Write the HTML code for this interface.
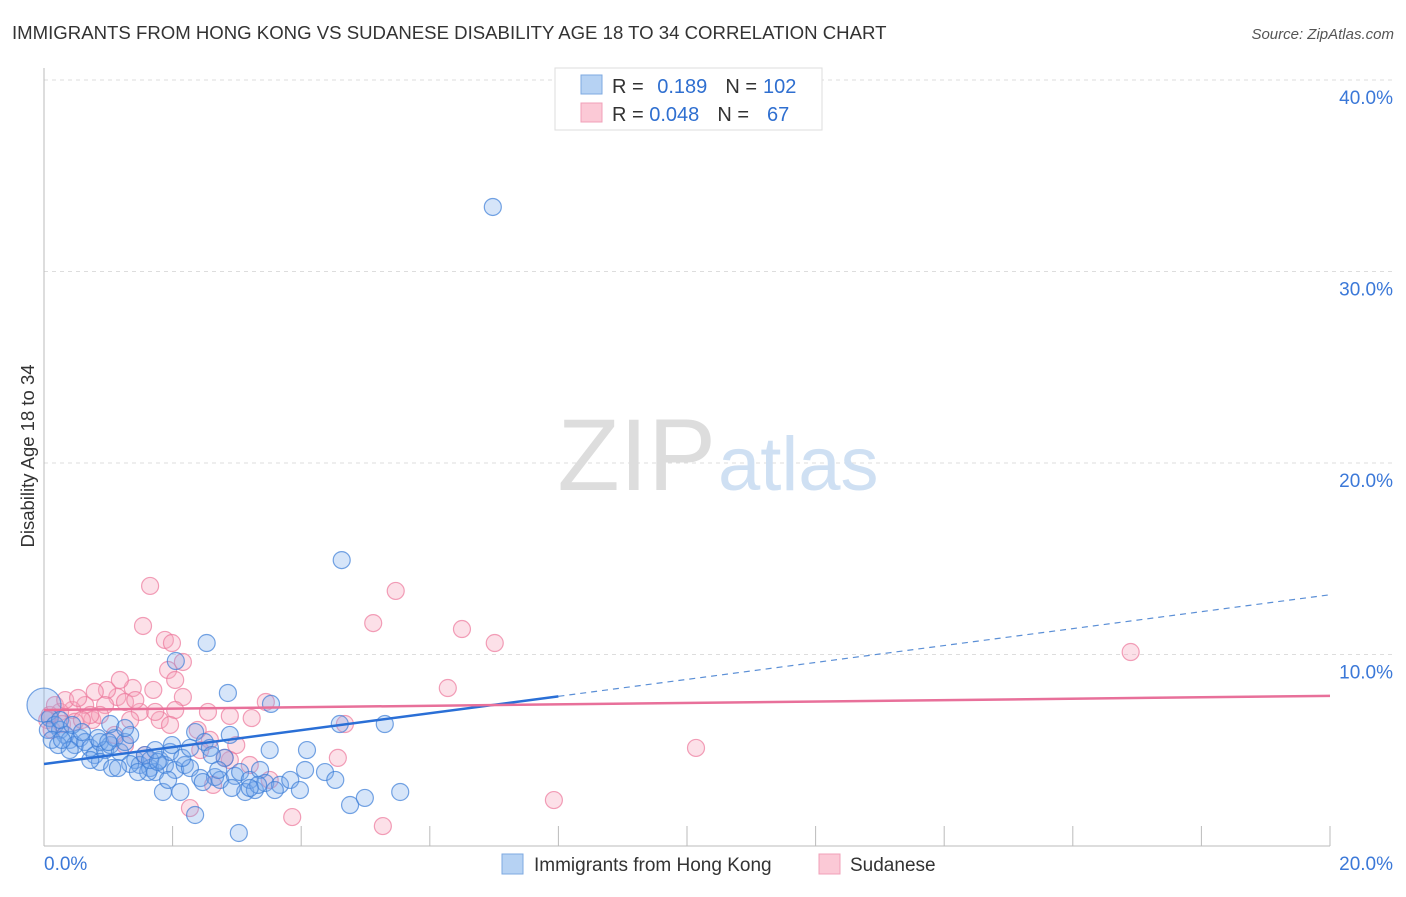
<!DOCTYPE html>
<html><head><meta charset="utf-8"><style>
body{margin:0;background:#fff;font-family:"Liberation Sans",sans-serif}
svg text{font-family:"Liberation Sans",sans-serif}
</style></head><body>
<svg id="c" width="1406" height="892">
<text x="12" y="39" font-size="18.6" fill="#333">IMMIGRANTS FROM HONG KONG VS SUDANESE DISABILITY AGE 18 TO 34 CORRELATION CHART</text>
<text x="1394" y="39" font-size="15" fill="#555" font-style="italic" text-anchor="end">Source: ZipAtlas.com</text>
<text transform="translate(34,456) rotate(-90)" font-size="18.5" fill="#333" text-anchor="middle">Disability Age 18 to 34</text>
<g id="grid"></g>
<text x="716" y="490" font-size="102" fill="#ddd" font-family="Liberation Serif" text-anchor="end">ZIP</text>
<text x="718" y="490" font-size="76" fill="#cfe0f3">atlas</text>
<g id="pts"></g>
<g id="lines"></g>
<g>
<rect x="555" y="68" width="267" height="62" fill="#fff" stroke="#ddd"/>
<rect x="581" y="75" width="21" height="19" fill="#b6d2f3" stroke="#7ea9e0"/>
<rect x="581" y="103" width="21" height="19" fill="#fbc9d6" stroke="#f0a0b8"/>
<text x="612" y="93" font-size="20" fill="#333">R = <tspan fill="#2f6fd0" dx="8">0.189</tspan><tspan fill="#333" dx="18">N =</tspan><tspan fill="#2f6fd0" dx="6">102</tspan></text>
<text x="612" y="121" font-size="20" fill="#333">R = <tspan fill="#2f6fd0">0.048</tspan><tspan fill="#333" dx="18">N =</tspan><tspan fill="#2f6fd0" dx="18">67</tspan></text>
</g>
<g>
<rect x="502" y="854" width="21" height="20" fill="#b6d2f3" stroke="#7ea9e0"/>
<text x="534" y="871" font-size="19" fill="#333">Immigrants from Hong Kong</text>
<rect x="819" y="854" width="21" height="20" fill="#fbc9d6" stroke="#f0a0b8"/>
<text x="850" y="871" font-size="19" fill="#333">Sudanese</text>
</g>
</svg>
<script>
const xTicks=[0,2,4,6,8,10,12,14,16,18,20];
const yTicks=[10,20,30,40];
const blueX=[0,.09,.17,.25,.33,.40,.06,.12,.22,.48,.56,.64,.72,.79,.87,.95,1.03,1.10,1.18,1.26,1.34,1.42,1.49,1.57,1.65,1.73,1.80,1.88,1.96,2.04,2.12,2.19,2.27,2.35,2.43,2.50,2.58,2.66,2.74,2.81,2.89,2.97,3.05,3.13,3.20,3.28,3.36,3.44,3.51,3.67,3.83,3.98,4.06,4.09,4.37,4.53,4.60,4.76,4.99,5.30,5.54,4.63,2.53,2.05,2.86,3.53,6.98,3.03,2.35,1.85,1.34,.87,.72,.40,.28,1.06,1.62,1.99,2.15,2.61,2.71,2.92,3.33,1.03,1.26,1.65,.25,.44,.59,.84,1.00,1.15,1.46,1.77,1.93,3.20,3.59,1.73,2.27,2.47];
const blueY=[7.36,6.68,6.32,6.06,5.80,5.54,6.06,5.54,5.27,5.27,5.64,5.43,5.12,4.75,5.43,5.01,5.27,5.64,4.91,5.43,5.80,4.49,4.23,4.75,4.07,3.86,4.49,4.23,4.91,3.97,2.82,4.23,4.07,5.95,3.55,5.43,5.12,3.60,3.45,4.60,5.80,3.66,3.86,2.82,3.45,2.92,3.97,3.29,5.01,3.19,3.45,2.92,3.97,5.01,3.86,3.45,6.37,2.14,2.51,6.37,2.82,14.93,10.60,9.66,7.99,7.42,33.37,0.68,1.62,2.82,4.28,4.39,4.49,5.01,5.54,4.07,3.86,5.27,4.60,4.75,3.97,3.03,3.19,6.37,6.16,4.49,6.58,6.32,5.95,5.64,5.43,4.07,3.86,4.39,3.45,3.03,2.92,5.01,5.12,3.34];
const pinkX=[1.65,5.47,1.54,5.12,6.50,7.01,1.88,1.99,16.9,2.16,1.93,2.04,6.28,1.70,2.16,1.14,.98,.79,1.38,1.26,.95,.64,.44,.25,.09,.17,.33,.53,.75,.87,1.49,1.80,2.04,2.55,2.89,3.23,3.45,4.68,2.99,10.14,7.93,5.27,3.86,2.27,2.63,4.57,3.20,2.89,2.58,1.96,1.34,1.10,.72,.05,.12,.28,.48,1.18,1.42,1.73,2.39,2.43,2.81,3.51,1.26,1.57,.59];
const pinkY=[13.58,13.32,11.49,11.64,11.33,10.60,10.76,10.60,10.13,9.61,9.19,8.67,8.25,8.15,7.78,7.78,8.15,8.05,8.25,7.52,7.36,7.36,7.10,7.00,6.84,7.36,7.62,7.73,6.58,6.84,7.00,6.58,7.10,7.00,6.79,6.68,7.52,6.37,5.27,5.12,2.40,1.04,1.51,1.98,3.19,4.60,4.23,4.49,5.54,6.32,6.58,5.80,6.84,6.58,6.06,6.37,6.48,8.67,7.62,7.00,6.06,5.01,4.60,3.45,5.27,4.75,6.58];
const blueLine=[4.28,0.442], pinkLine=[7.10,0.037];
const NS="http://www.w3.org/2000/svg";
const sx=v=>44+v*64.3, sy=v=>846-v*19.15;
function mk(t,a,p){const e=document.createElementNS(NS,t);for(const k in a)e.setAttribute(k,a[k]);p.appendChild(e);return e;}
const g=document.getElementById('grid');
yTicks.forEach(t=>{
 const l=mk('line',{x1:44,x2:1392,y1:sy(t),y2:sy(t),stroke:'#ddd','stroke-dasharray':'4,4'},g);
 
 
 const tx=mk('text',{x:1393,y:sy(t)+24,'font-size':19,fill:'#3b78d8','text-anchor':'end'},g);tx.textContent=t.toFixed(1)+'%';
 
 
});
mk('line',{x1:44,x2:44,y1:68,y2:846,stroke:'#bbb'},g);
mk('line',{x1:44,x2:1330,y1:846,y2:846,stroke:'#bbb'},g);
xTicks.forEach(t=>{
 const l=mk('line',{x1:sx(t),x2:sx(t),y1:826,y2:846,stroke:'#bbb'},g);
 
 
});
[[0,44,'start'],[20,1393,'end']].forEach(([t,x,a])=>{
 const tx=mk('text',{x:x,y:870,'font-size':19,fill:'#3b78d8','text-anchor':a},g);tx.textContent=t.toFixed(1)+'%';
 
 
});
const p=document.getElementById('pts');
pinkX.forEach((x,i)=>{
 const c=mk('circle',{cx:sx(x),cy:sy(pinkY[i]),r:8.5,fill:'rgba(246,165,190,0.35)',stroke:'rgba(236,120,155,0.7)','stroke-width':1.2},p);
 
 
});
blueX.forEach((x,i)=>{
 const c=mk('circle',{cx:sx(x),cy:sy(blueY[i]),r:i==0?17:8.5,fill:'rgba(120,170,235,0.3)',stroke:'rgba(60,125,215,0.7)','stroke-width':1.2},p);
 
 
});
const L=document.getElementById('lines');
const bl=mk('line',{x1:sx(0),y1:sy(blueLine[0]),x2:sx(8),y2:sy(blueLine[0]+8*blueLine[1]),stroke:'#2a6fd6','stroke-width':2.5},L);


const bd=mk('line',{x1:sx(8),y1:sy(blueLine[0]+8*blueLine[1]),x2:sx(20),y2:sy(blueLine[0]+20*blueLine[1]),stroke:'#5b8fd6','stroke-width':1.2,'stroke-dasharray':'6,5'},L);


const pl=mk('line',{x1:sx(0),y1:sy(pinkLine[0]),x2:sx(20),y2:sy(pinkLine[0]+20*pinkLine[1]),stroke:'#e8709a','stroke-width':2.5},L);


</script>
</body></html>
